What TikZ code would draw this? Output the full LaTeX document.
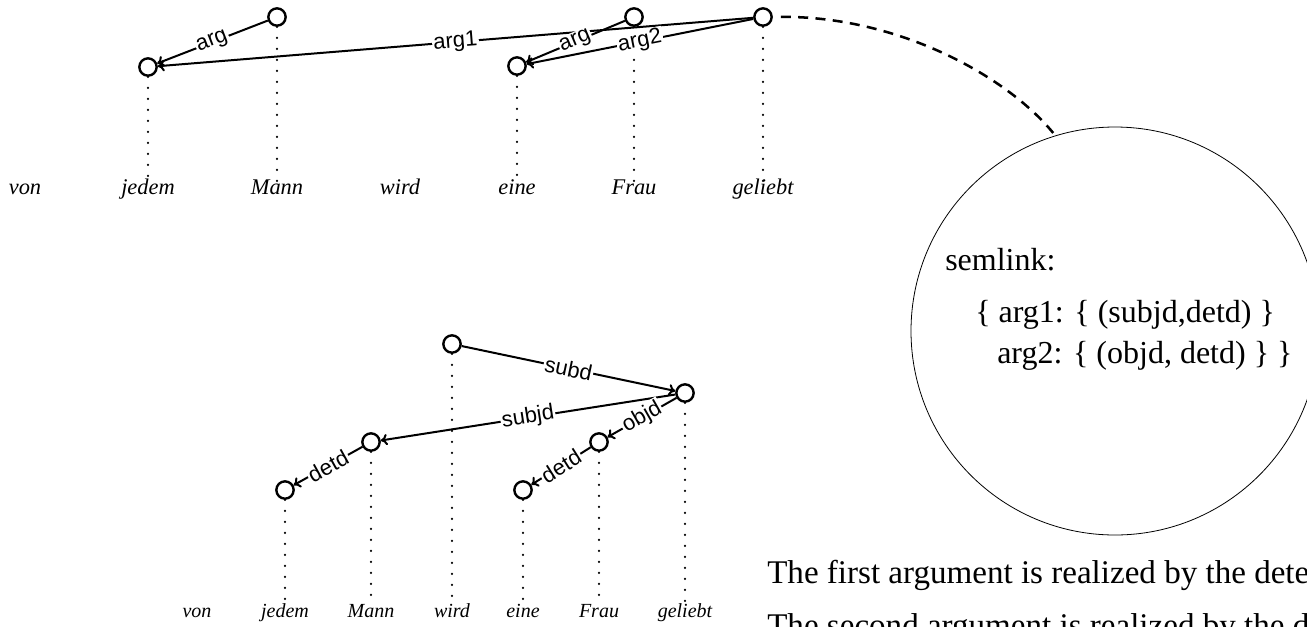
\documentclass[tikz,border=0pt]{standalone}
\usepackage{fontspec}
\setmainfont{Liberation Serif}
\setsansfont{Liberation Sans}
\usetikzlibrary{arrows.meta}

\begin{document}
\begin{tikzpicture}[
  x=0.75pt, y=-0.75pt,
  tok/.style={draw, circle, line width=1.8pt, minimum size=13pt, inner sep=0pt},
  word/.style={anchor=base, inner sep=2pt, text height=0.7em, text depth=0.2em, font=\fontsize{16.8}{18}\selectfont\itshape},
  smallword/.style={word, font=\fontsize{15}{17}\selectfont\itshape},
  dep/.style={-{To[length=5pt,width=8.5pt]}, line width=1.5pt},
  lab/.style={midway, sloped, fill=white, inner sep=1pt, font=\sffamily\fontsize{16.5}{18}\selectfont},
  wordline/.style={line width=1.8pt, line cap=round, dash pattern=on 0pt off 8.25pt},
  link/.style={line width=1.9pt, dash pattern=on 7.5pt off 5.5pt, shorten <=6pt},
  bigtext/.style={anchor=base west, inner sep=0pt, font=\fontsize{24}{28}\selectfont}
]
  \useasboundingbox (0,0) rectangle (1307,626);
  \clip (0,0) rectangle (1307,626);

  % Upper tree
  \node[tok] (tjedem) at (148,67) {};
  \node[tok] (tMann) at (277,17) {};
  \node[tok] (teine) at (517,66) {};
  \node[tok] (tFrau) at (634,17) {};
  \node[tok] (tgeliebt) at (763,17) {};

  \node[word] (wvon) at (25,194) {von};
  \node[word] (wjedem) at (148,194) {jedem};
  \node[word] (wMann) at (277,194) {Mann};
  \node[word] (wwird) at (400,194) {wird};
  \node[word] (weine) at (517,194) {eine};
  \node[word] (wFrau) at (634,194) {Frau};
  \node[word] (wgeliebt) at (763,194) {geliebt};

  \foreach \w in {jedem,Mann,eine,Frau,geliebt}
    \draw[wordline] (t\w) -- (w\w);

  \draw[dep] (tMann) -- node[lab] {arg} (tjedem);
  \draw[dep] (tgeliebt) -- node[lab] {arg1} (tjedem);
  \draw[dep] (tFrau) -- node[lab] {arg} (teine);
  \draw[dep] (tgeliebt) -- node[lab] {arg2} (teine);

  % Lower tree
  \node[tok] (bwird) at (452,344) {};
  \node[tok] (bgeliebt) at (685,393) {};
  \node[tok] (bMann) at (371,442) {};
  \node[tok] (bFrau) at (599,442) {};
  \node[tok] (bjedem) at (285,490) {};
  \node[tok] (beine) at (523,490) {};

  \node[smallword] (vvon) at (197,617) {von};
  \node[smallword] (vjedem) at (285,617) {jedem};
  \node[smallword] (vMann) at (371,617) {Mann};
  \node[smallword] (vwird) at (452,617) {wird};
  \node[smallword] (veine) at (523,617) {eine};
  \node[smallword] (vFrau) at (599,617) {Frau};
  \node[smallword] (vgeliebt) at (685,617) {geliebt};

  \foreach \w in {jedem,Mann,wird,eine,Frau,geliebt}
    \draw[wordline] (b\w) -- (v\w);

  \draw[dep] (bwird) -- node[lab] {subd} (bgeliebt);
  \draw[dep] (bgeliebt) -- node[lab] {subjd} (bMann);
  \draw[dep] (bgeliebt) -- node[lab] {objd} (bFrau);
  \draw[dep] (bMann) -- node[lab] {detd} (bjedem);
  \draw[dep] (bFrau) -- node[lab] {detd} (beine);

  % Semlink bubble
  \node[draw, circle, line width=0.6pt, minimum size=306pt, inner sep=0pt] (semcircle) at (1115,331) {};
  \node[bigtext] (semhead) at (945,270) {semlink:};
  \node[bigtext] (semarg1) at (975,322) {\{ arg1: \{ (subjd,detd) \}};
  \node[bigtext] (semarg2) at (997,363) {arg2: \{ (objd, detd) \} \}};
  \draw[link] (tgeliebt) .. controls (900,16) and (1010,78) .. (semcircle.107);

  % Explanation
  \node[bigtext, font=\fontsize{24.8}{28}\selectfont] (expl1) at (767,583) {The first argument is realized by the determiner};
  \node[bigtext, font=\fontsize{24.8}{28}\selectfont] (expl2) at (767,636) {The second argument is realized by the determiner};
\end{tikzpicture}
\end{document}
